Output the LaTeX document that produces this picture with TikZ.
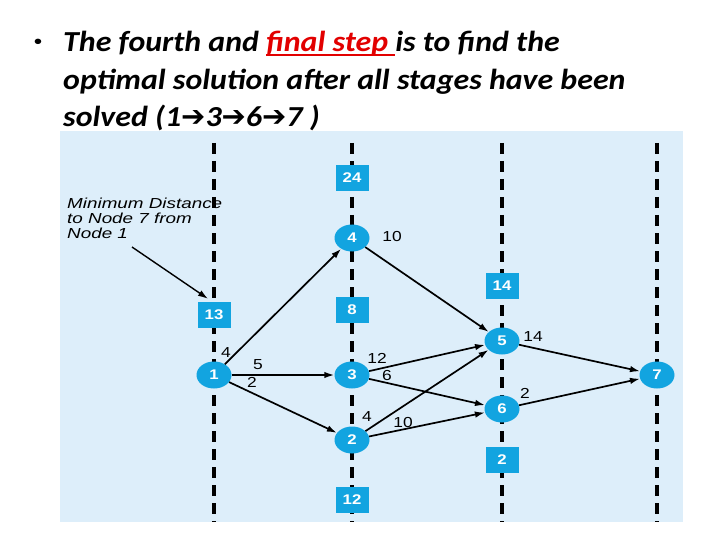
\documentclass[tikz,border=0pt]{standalone}
\usepackage{fontspec}
\setmainfont[FakeStretch=1.1]{Carlito}
\newfontfamily\helv[FakeStretch=1.2]{Liberation Sans}
\newfontfamily\helvwide[FakeStretch=1.3]{Liberation Sans}
\newfontfamily\arrowfont{DejaVu Sans}
\usetikzlibrary{shapes.geometric,arrows.meta}
\definecolor{stagebg}{RGB}{221,238,250}
\definecolor{nodeblue}{RGB}{18,164,224}
\definecolor{titlered}{RGB}{226,0,0}
\newcommand{\redline}[1]{\setbox0\hbox{#1}\rlap{\rule[-4pt]{\wd0}{1.8pt}}\box0}

\begin{document}
\begin{tikzpicture}[x=1pt, y=-1pt,
    stage/.style={ellipse, fill=nodeblue, minimum width=35pt, minimum height=27pt, inner sep=0pt, text=white, font=\helv\bfseries\fontsize{14}{14}\selectfont},
    dist/.style={rectangle, fill=nodeblue, minimum width=33pt, minimum height=26pt, inner sep=0pt, text=white, font=\helv\bfseries\fontsize{14}{14}\selectfont},
    cost/.style={inner sep=0pt, font=\helv\fontsize{14.5}{14.5}\selectfont},
    divider/.style={line width=4.5pt, dash pattern=on 11pt off 7pt},
    arrow/.style={-{Latex[length=10pt,width=6.5pt]}, line width=1.7pt},
    heading/.style={anchor=base west, inner sep=0pt, font=\fontsize{29}{29}\selectfont\bfseries\itshape}
]
    \useasboundingbox (0,0) rectangle (720,540);

    % title
    \node [anchor=center, inner sep=0pt, font=\helv\fontsize{20}{20}\selectfont] (bullet) at (38,44) {\textbullet};
    \node [heading] (line1) at (63,52) {The fourth and {\color{titlered}\redline{final step\ }}is to find the};
    \node [heading] (line2) at (63,90) {optimal solution after all stages have been};
    \node [heading] (line3) at (63,127) {solved (1{\arrowfont\bfseries ➔}3{\arrowfont\bfseries ➔}6{\arrowfont\bfseries ➔}7 )};

    % panel and stage lines
    \fill [stagebg] (60,131) rectangle (683,522);
    \foreach \xs in {214,352,502,657}
        \draw [divider] (\xs,143) -- (\xs,522);

    % stages
    \node [stage] (n1) at (214,375) {1};
    \node [stage] (n4) at (352,238) {4};
    \node [stage] (n3) at (352,375) {3};
    \node [stage] (n2) at (352,440) {2};
    \node [stage] (n5) at (502,341) {5};
    \node [stage] (n6) at (502,409) {6};
    \node [stage] (n7) at (657,375) {7};

    % distances to node 7
    \node [dist] (d1) at (214,315) {13};
    \node [dist] (d4) at (352,178) {24};
    \node [dist] (d3) at (352,310) {8};
    \node [dist] (d2) at (352,500) {12};
    \node [dist] (d5) at (502,286) {14};
    \node [dist] (d6) at (502,460) {2};

    % routes
    \draw [arrow] (n1) -- (n4);
    \draw [arrow] (n1) -- (n3);
    \draw [arrow] (n1) -- (n2);
    \draw [arrow] (n4) -- (n5);
    \draw [arrow] (n3) -- (n5);
    \draw [arrow] (n3) -- (n6);
    \draw [arrow] (n2) -- (n5);
    \draw [arrow] (n2) -- (n6);
    \draw [arrow] (n5) -- (n7);
    \draw [arrow] (n6) -- (n7);

    \node [cost] (c14) at (226,353) {4};
    \node [cost] (c13) at (258,365) {5};
    \node [cost] (c12) at (252,382) {2};
    \node [cost] (c45) at (392,237) {10};
    \node [cost] (c35) at (377,358) {12};
    \node [cost] (c36) at (387,376) {6};
    \node [cost] (c25) at (367,417) {4};
    \node [cost] (c26) at (403,423) {10};
    \node [cost] (c57) at (533,337) {14};
    \node [cost] (c67) at (525,393) {2};

    % note
    \node [anchor=north west, align=left, inner sep=0pt, font=\helvwide\itshape\fontsize{14.5}{15}\selectfont] (note) at (67,198) {Minimum Distance\\to Node 7 from\\Node 1};
    \coordinate (notetail) at (132,247);
    \draw [arrow, line width=1.4pt] (notetail) -- ([xshift=-6pt,yshift=3pt]d1.north);
\end{tikzpicture}
\end{document}
